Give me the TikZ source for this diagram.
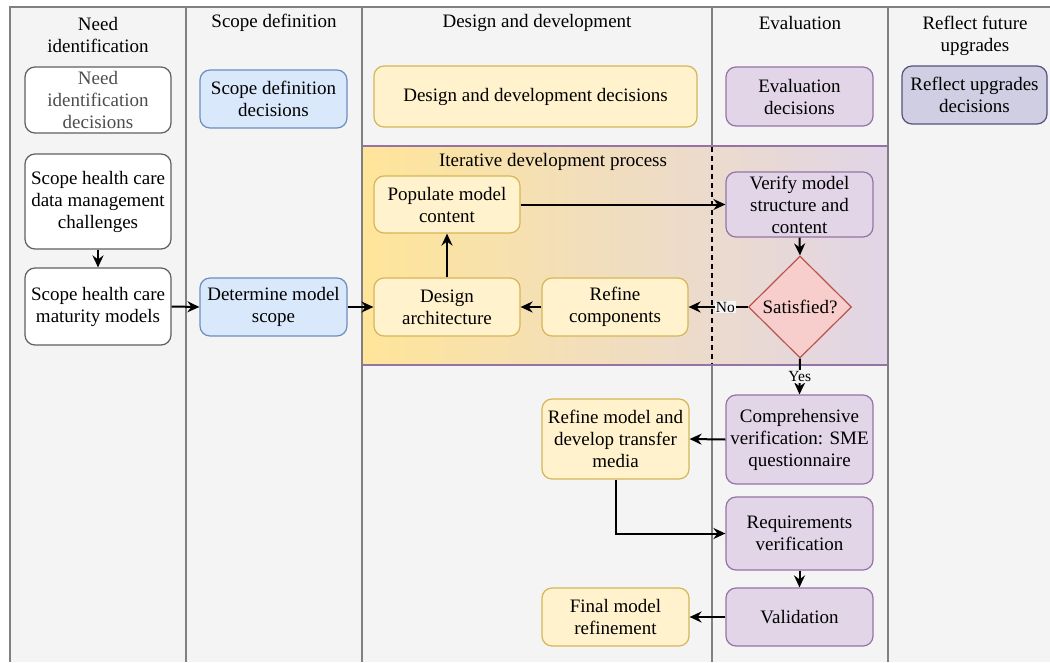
\documentclass[tikz,border=0pt]{standalone}
\usepackage{fontspec}
\setmainfont{Liberation Serif}
\usetikzlibrary{shapes.geometric,arrows.meta}

\definecolor{lanebg}{HTML}{F4F4F4}
\definecolor{laneline}{HTML}{808080}
\definecolor{wstroke}{HTML}{5F5F5F}
\definecolor{greytext}{HTML}{4D4D4D}
\definecolor{bfill}{HTML}{DAE8FC}
\definecolor{bstroke}{HTML}{6C8EBF}
\definecolor{yfill}{HTML}{FFF2CC}
\definecolor{ystroke}{HTML}{D6B656}
\definecolor{pfill}{HTML}{E1D5E7}
\definecolor{pstroke}{HTML}{9673A6}
\definecolor{rfill}{HTML}{F8CECC}
\definecolor{rstroke}{HTML}{B85450}
\definecolor{lfill}{HTML}{D0CEE2}
\definecolor{lstroke}{HTML}{56517E}
\definecolor{bandleft}{HTML}{FFE599}

\begin{document}
\begin{tikzpicture}[x=1pt,y=-1pt,
  txt/.style={font=\fontsize{19}{22}\selectfont, align=center},
  box/.style={txt, draw, rounded corners=10pt, line width=1.2pt, inner sep=2pt},
  wbox/.style={box, fill=white, draw=wstroke},
  bbox/.style={box, fill=bfill, draw=bstroke},
  ybox/.style={box, fill=yfill, draw=ystroke},
  pbox/.style={box, fill=pfill, draw=pstroke},
  lbox/.style={box, fill=lfill, draw=lstroke},
  decision/.style={txt, diamond, draw=rstroke, fill=rfill, line width=1.2pt,
    inner sep=0pt, aspect=1},
  conn/.style={line width=2pt, -{Stealth[length=12pt,width=11pt,inset=4pt]}},
  lane/.style={draw=laneline, line width=2pt},
  edgelabel/.style={txt, font=\fontsize{15.5}{18}\selectfont, inner sep=1pt}
]
\useasboundingbox (0,0) rectangle (1050,662);

% swimlane background and borders
\fill[white] (0,0) rectangle (1050,662);
\fill[lanebg] (10,7) rectangle (1050,662);
\foreach \lx in {10,186,362,712,888}
  \draw[lane] (\lx,7) -- (\lx,662);
\draw[lane] (9,7) -- (1050,7);

% lane titles
\node[txt] (t1) at (98,35) {Need\\identification};
\node[txt] (t2) at (274,23) {Scope definition};
\node[txt] (t3) at (537,23) {Design and development};
\node[txt] (t4) at (800,23) {Evaluation};
\node[txt] (t5) at (975,36) {Reflect future\\upgrades};

% iterative development band
\shade[left color=bandleft, right color=pfill] (362,146) rectangle (888,365);
\draw[pstroke, line width=1.5pt] (362,146) -- (888,146);
\draw[pstroke, line width=1.5pt] (362,365) -- (888,365);
\draw[lane] (362,145) -- (362,366);
\draw[lane] (888,145) -- (888,366);
\draw[line width=1.2pt, dashed, dash pattern=on 5pt off 4pt] (712,147) -- (712,364);
\node[txt] (band) at (553,162) {Iterative development process};

% need identification
\node[wbox, text=greytext, minimum width=146, minimum height=66] (needdec) at (98,100)
  {Need\\identification\\decisions};
\node[wbox, minimum width=146, minimum height=95] (challenges) at (98,201.5)
  {Scope health care\\data management\\challenges};
\node[wbox, minimum width=146, minimum height=77] (maturity) at (98,306.5)
  {Scope health care\\maturity models};

% scope definition
\node[bbox, minimum width=147, minimum height=58] (scopedec) at (273.5,99)
  {Scope definition\\decisions};
\node[bbox, minimum width=147, minimum height=58] (determine) at (273.5,307)
  {Determine model\\scope};

% design and development
\node[ybox, minimum width=323, minimum height=61] (designdec) at (535.5,96.5)
  {Design and development decisions};
\node[ybox, minimum width=146, minimum height=57] (populate) at (447,204.5)
  {Populate model\\content};
\node[ybox, minimum width=146, minimum height=58] (designarch) at (447,307)
  {Design\\architecture};
\node[ybox, minimum width=146, minimum height=58] (refinecomp) at (615,307)
  {Refine\\components};
\node[ybox, minimum width=147, minimum height=80] (refinemodel) at (615.5,439)
  {Refine model and\\develop transfer\\media};
\node[ybox, minimum width=147, minimum height=58] (finalref) at (615.5,617)
  {Final model\\refinement};

% evaluation
\node[pbox, minimum width=147, minimum height=59] (evaldec) at (799.5,96.5)
  {Evaluation\\decisions};
\node[pbox, minimum width=147, minimum height=65] (verify) at (799.5,204.5)
  {Verify model\\structure and\\content};
\node[decision, minimum width=103, minimum height=102] (satisfied) at (800,307)
  {Satisfied?};
\node[pbox, minimum width=147, minimum height=89] (comp) at (799.5,439.5)
  {Comprehensive\\verification: SME\\questionnaire};
\node[pbox, minimum width=147, minimum height=73] (reqver) at (799.5,533.5)
  {Requirements\\verification};
\node[pbox, minimum width=147, minimum height=58] (validation) at (799.5,617)
  {Validation};

% reflect future upgrades
\node[lbox, minimum width=145, minimum height=58] (reflectdec) at (974.5,95)
  {Reflect upgrades\\decisions};

% connectors
\draw[conn] (challenges.south) -- (maturity.north);
\draw[conn] (maturity.east) -- (determine.west);
\draw[conn] (determine.east) -- (designarch.west);
\draw[conn] (designarch.north) -- (populate.south);
\draw[conn] (refinecomp.west) -- (designarch.east);
\draw[conn] (populate.east) -- (verify.west);
\draw[conn] (verify.south) -- (satisfied.north);
\draw[conn] (satisfied.west) -- node[edgelabel, pos=0.38, fill=white!96!black] {No} (refinecomp.east);
\draw[conn] (satisfied.south) -- node[edgelabel, pos=0.5, fill=lanebg] {Yes} (comp.north);
\draw[conn] (comp.west) -- (refinemodel.east);
\draw[conn] (refinemodel.south) |- (reqver.west);
\draw[conn] (reqver.south) -- (validation.north);
\draw[conn] (validation.west) -- (finalref.east);
\end{tikzpicture}
\end{document}
